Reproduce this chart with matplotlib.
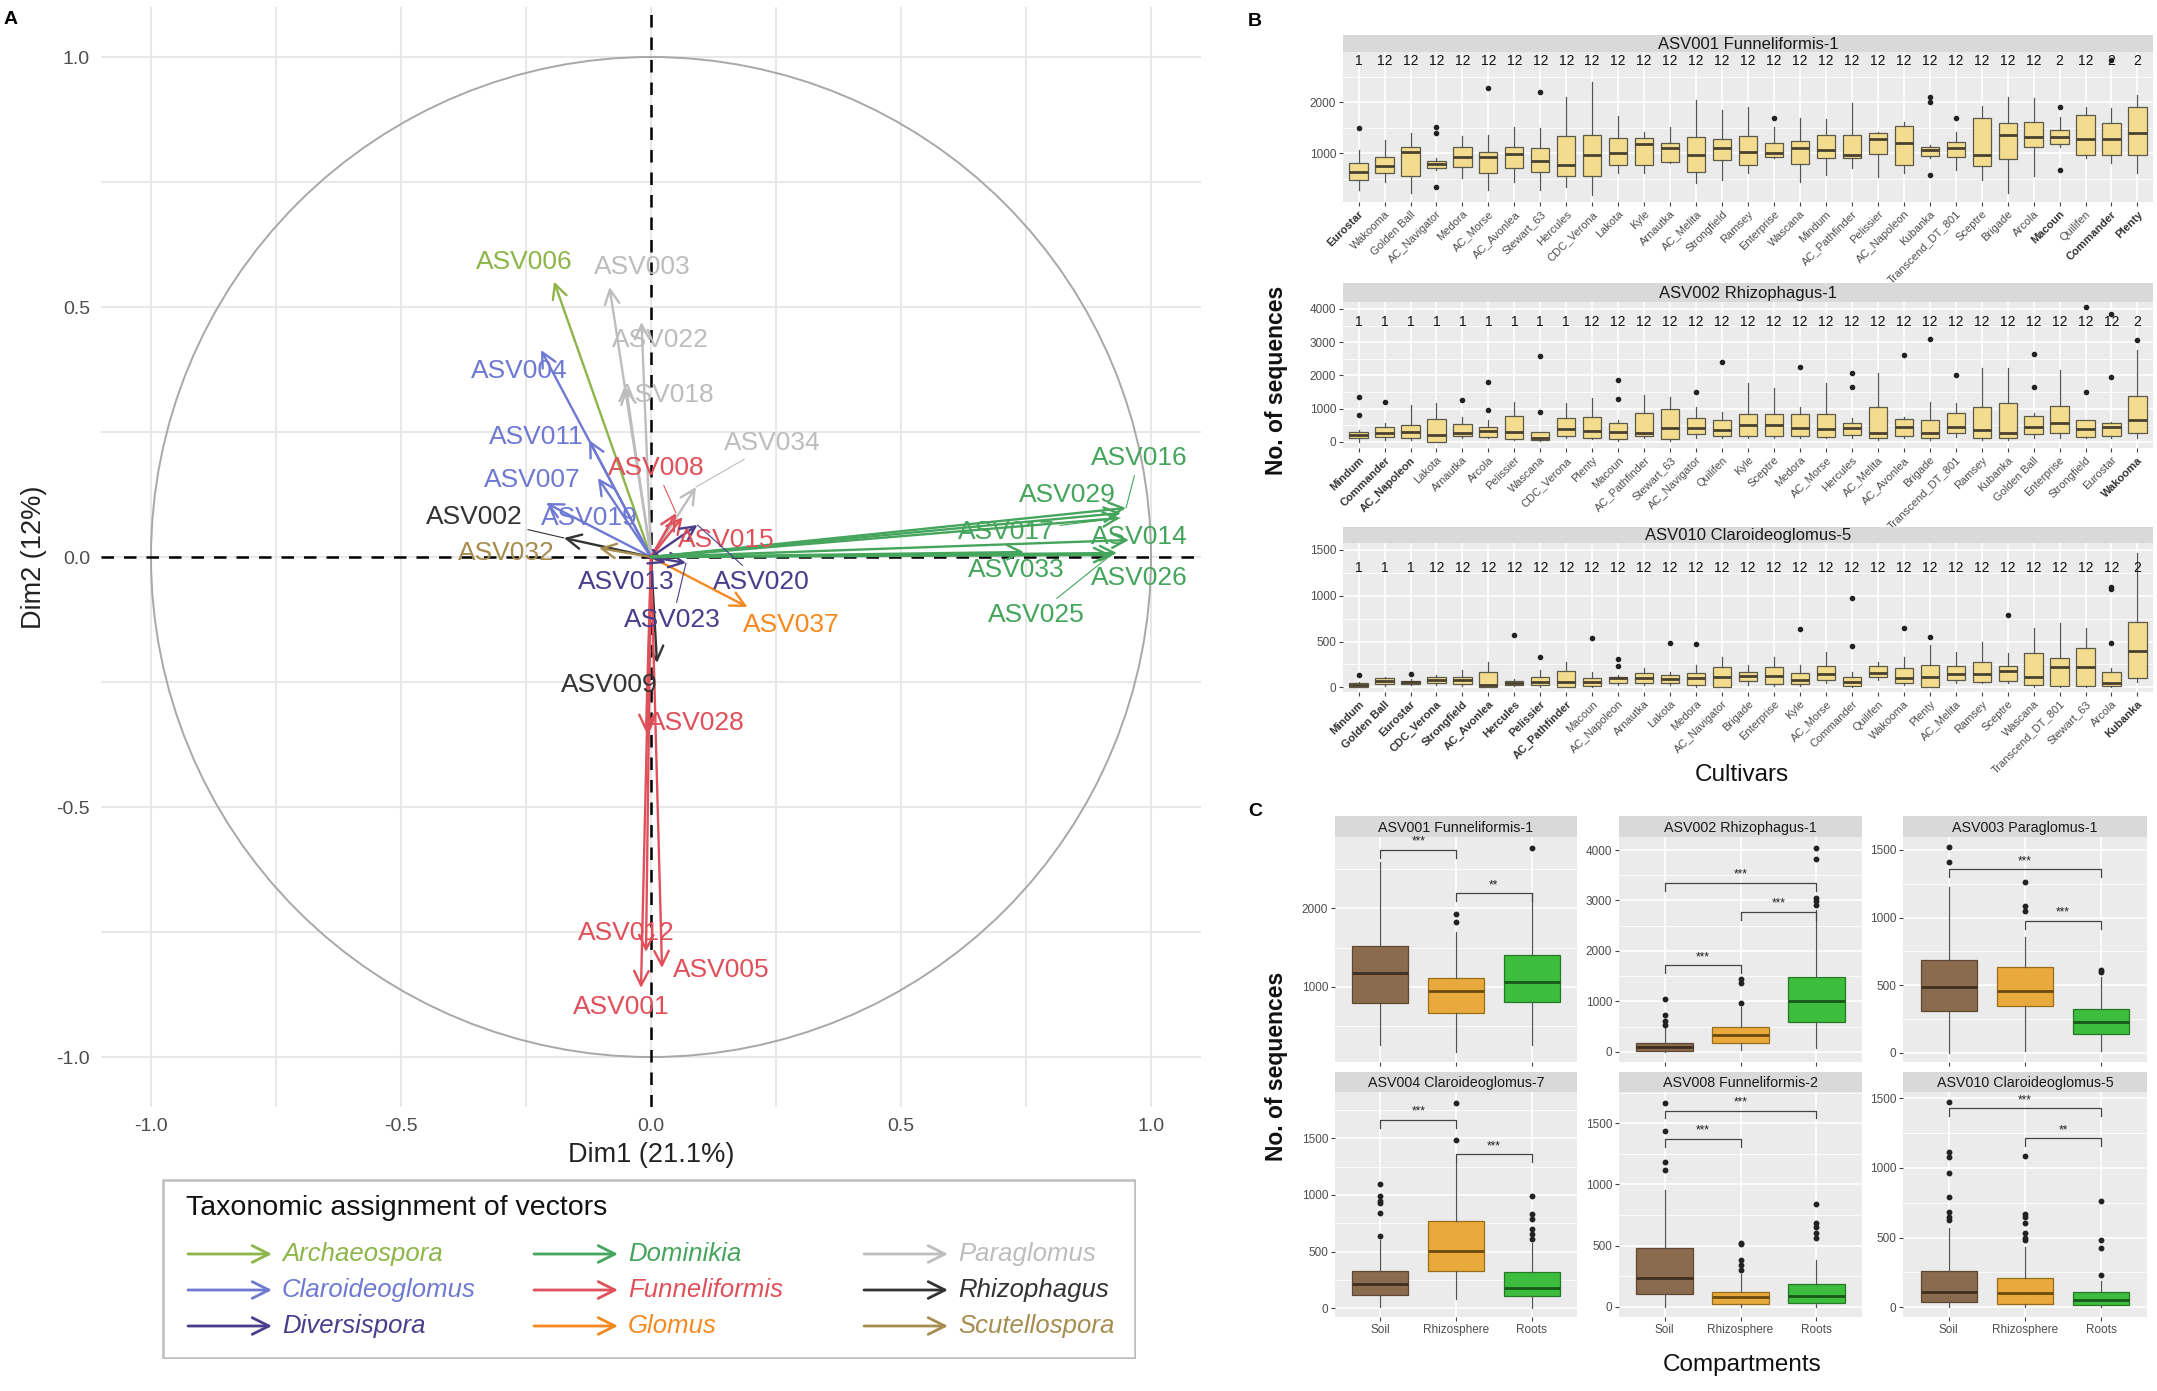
import numpy as np
import matplotlib.pyplot as plt
from matplotlib.patches import Circle, Rectangle

plt.rcParams['font.family'] = ['Liberation Sans', 'DejaVu Sans']

W, H = 2157, 1391

# ---------------- panel A : variable factor map ----------------
genera = ['Archaeospora', 'Claroideoglomus', 'Diversispora', 'Dominikia', 'Funneliformis',
          'Glomus', 'Paraglomus', 'Rhizophagus', 'Scutellospora']
genus_colors = ['#8db548', '#6f79d2', '#4b3c8c', '#45a55c', '#e0505a',
                '#f5891f', '#bdbdbd', '#333333', '#a68d4f']

asv_ids = ['ASV006', 'ASV003', 'ASV022', 'ASV018', 'ASV034', 'ASV004', 'ASV011', 'ASV007',
           'ASV019', 'ASV002', 'ASV009', 'ASV032', 'ASV008', 'ASV015', 'ASV028', 'ASV012',
           'ASV005', 'ASV001', 'ASV037', 'ASV013', 'ASV023', 'ASV020', 'ASV016', 'ASV029',
           'ASV017', 'ASV014', 'ASV033', 'ASV026', 'ASV025']
asv_genus = ['Archaeospora', 'Paraglomus', 'Paraglomus', 'Paraglomus', 'Paraglomus',
             'Claroideoglomus', 'Claroideoglomus', 'Claroideoglomus', 'Claroideoglomus',
             'Rhizophagus', 'Rhizophagus', 'Scutellospora', 'Funneliformis', 'Funneliformis',
             'Funneliformis', 'Funneliformis', 'Funneliformis', 'Funneliformis', 'Glomus',
             'Diversispora', 'Diversispora', 'Diversispora', 'Dominikia', 'Dominikia',
             'Dominikia', 'Dominikia', 'Dominikia', 'Dominikia', 'Dominikia']
dim1 = [-0.194, -0.083, -0.019, -0.05, 0.09, -0.22, -0.124, -0.106, -0.21, -0.174, 0.012,
        -0.104, 0.05, 0.063, -0.01, -0.01, 0.022, -0.02, 0.193, 0.03, 0.07, 0.093,
        0.95, 0.94, 0.938, 0.956, 0.746, 0.932, 0.92]
dim2 = [0.551, 0.54, 0.47, 0.34, 0.14, 0.414, 0.234, 0.158, 0.108, 0.038, -0.212,
        0.018, 0.088, 0.08, -0.35, -0.79, -0.822, -0.862, -0.1, -0.012, -0.012, 0.064,
        0.098, 0.088, 0.078, 0.034, 0.01, 0.008, 0.004]
label_x = [-0.254, -0.018, 0.019, 0.03, 0.243, -0.264, -0.23, -0.238, -0.124, -0.354, -0.084,
           -0.29, 0.01, 0.15, 0.09, -0.05, 0.14, -0.06, 0.28, -0.05, 0.043, 0.22,
           0.976, 0.832, 0.71, 0.976, 0.73, 0.976, 0.77]
label_y = [0.59, 0.58, 0.434, 0.324, 0.228, 0.371, 0.24, 0.154, 0.078, 0.08, -0.256,
           0.008, 0.178, 0.034, -0.333, -0.752, -0.826, -0.9, -0.136, -0.05, -0.126, -0.05,
           0.198, 0.124, 0.05, 0.04, -0.026, -0.042, -0.116]
with_segment = ['ASV002', 'ASV034', 'ASV008', 'ASV020', 'ASV023', 'ASV025', 'ASV016', 'ASV017']

# ---------------- panel B : cultivars ----------------
cult1 = ['Eurostar', 'Wakooma', 'Golden Ball', 'AC_Navigator', 'Medora', 'AC_Morse', 'AC_Avonlea',
         'Stewart_63', 'Hercules', 'CDC_Verona', 'Lakota', 'Kyle', 'Arnautka', 'AC_Melita',
         'Strongfield', 'Ramsey', 'Enterprise', 'Wascana', 'Mindum', 'AC_Pathfinder', 'Pelissier',
         'AC_Napoleon', 'Kubanka', 'Transcend_DT_801', 'Sceptre', 'Brigade', 'Arcola', 'Macoun',
         'Quilifen', 'Commander', 'Plenty']
letters1 = ['1', '12', '12', '12', '12', '12', '12', '12', '12', '12', '12', '12', '12', '12', '12',
            '12', '12', '12', '12', '12', '12', '12', '12', '12', '12', '12', '12', '2', '12', '2', '2']
bold1 = ['Eurostar', 'Macoun', 'Commander', 'Plenty']
q1_1 = [477, 621, 556, 706, 739, 608, 706, 641, 562, 562, 771, 771, 824, 641, 869, 771, 935, 791,
        902, 902, 980, 771, 948, 935, 752, 882, 1131, 1176, 967, 967, 967]
med_1 = [640, 758, 1033, 791, 922, 935, 987, 856, 771, 967, 1013, 1176, 1111, 967, 1111, 1033, 1013,
         1098, 1072, 967, 1274, 1209, 1065, 1098, 967, 1360, 1327, 1327, 1274, 1274, 1392]
q3_1 = [804, 935, 1131, 856, 1131, 1033, 1118, 1111, 1340, 1360, 1294, 1294, 1196, 1327, 1274, 1340,
        1196, 1248, 1360, 1360, 1405, 1536, 1131, 1229, 1686, 1588, 1621, 1457, 1752, 1588, 1915]
lo_1 = [281, 444, 229, 673, 510, 281, 444, 281, 346, 183, 608, 608, 804, 412, 477, 608, 902, 444,
        575, 706, 542, 608, 902, 673, 477, 216, 556, 1131, 902, 804, 608]
hi_1 = [1065, 1261, 1405, 902, 1340, 1360, 1510, 1490, 2111, 2405, 1732, 1425, 1523, 2046, 1850,
        1915, 1523, 1686, 1667, 1993, 1425, 1621, 1163, 1425, 1928, 2111, 2078, 1719, 1915, 1882, 2144]
out_1 = [[1490], [], [], [1523, 1392, 346], [], [2275], [], [2209], [], [], [], [], [], [], [], [],
         [1686], [], [], [], [], [], [2111, 2013, 575], [1686], [], [], [], [1902, 673], [], [2830], []]

cult2 = ['Mindum', 'Commander', 'AC_Napoleon', 'Lakota', 'Arnautka', 'Arcola', 'Pelissier', 'Wascana',
         'CDC_Verona', 'Plenty', 'Macoun', 'AC_Pathfinder', 'Stewart_63', 'AC_Navigator', 'Quilifen',
         'Kyle', 'Sceptre', 'Medora', 'AC_Morse', 'Hercules', 'AC_Melita', 'AC_Avonlea', 'Brigade',
         'Transcend_DT_801', 'Ramsey', 'Kubanka', 'Golden Ball', 'Enterprise', 'Strongfield',
         'Eurostar', 'Wakooma']
letters2 = ['1', '1', '1', '1', '1', '1', '1', '1', '1', '12', '12', '12', '12', '12', '12', '12',
            '12', '12', '12', '12', '12', '12', '12', '12', '12', '12', '12', '12', '12', '12', '2']
bold2 = ['Mindum', 'Commander', 'AC_Napoleon', 'Wakooma']
q1_2 = [101, 151, 101, 0, 181, 151, 70, 50, 181, 121, 70, 181, 70, 221, 181, 181, 181, 181, 151, 201,
        101, 181, 101, 251, 101, 101, 231, 251, 151, 171, 251]
med_2 = [191, 251, 302, 201, 271, 312, 291, 121, 372, 332, 281, 251, 402, 402, 352, 513, 492, 402,
         382, 402, 271, 432, 251, 452, 352, 271, 432, 553, 372, 432, 653]
q3_2 = [302, 452, 503, 673, 533, 452, 784, 281, 724, 734, 553, 874, 975, 724, 653, 834, 834, 834, 834,
        573, 1035, 673, 653, 854, 1035, 1156, 774, 1075, 653, 553, 1377]
lo_2 = [0, 50, 50, 0, 101, 101, 50, 30, 101, 70, 30, 101, 30, 101, 101, 101, 101, 101, 101, 101, 50,
        101, 50, 151, 50, 50, 101, 101, 101, 101, 101]
hi_2 = [352, 553, 1106, 1156, 754, 653, 1206, 302, 1156, 1307, 653, 1407, 1357, 1055, 905, 1759, 1608,
        1055, 1759, 704, 2060, 754, 1206, 1176, 2211, 2211, 874, 2161, 653, 603, 2764]
out_2 = [[1357, 804], [1186], [], [], [1256], [1809, 955], [], [2583, 905], [], [], [1859, 1276], [],
         [], [1508], [2412], [], [], [2261], [], [2060, 1658], [], [2613], [3085], [2010], [], [],
         [2633, 1638], [], [4050, 1508], [3850, 1940], [3065]]

cult3 = ['Mindum', 'Golden Ball', 'Eurostar', 'CDC_Verona', 'Strongfield', 'AC_Avonlea', 'Hercules',
         'Pelissier', 'AC_Pathfinder', 'Macoun', 'AC_Napoleon', 'Arnautka', 'Lakota', 'Medora',
         'AC_Navigator', 'Brigade', 'Enterprise', 'Kyle', 'AC_Morse', 'Commander', 'Quilifen',
         'Wakooma', 'Plenty', 'AC_Melita', 'Ramsey', 'Sceptre', 'Wascana', 'Transcend_DT_801',
         'Stewart_63', 'Arcola', 'Kubanka']
letters3 = ['1', '1', '1', '12', '12', '12', '12', '12', '12', '12', '12', '12', '12', '12', '12', '12',
            '12', '12', '12', '12', '12', '12', '12', '12', '12', '12', '12', '12', '12', '12', '2']
bold3 = ['Mindum', 'Golden Ball', 'Eurostar', 'CDC_Verona', 'Strongfield', 'AC_Avonlea', 'Hercules',
         'Pelissier', 'AC_Pathfinder', 'Kubanka']
q1_3 = [7, 36, 36, 51, 36, 7, 25, 25, 7, 18, 51, 51, 51, 25, 7, 73, 36, 36, 80, 15, 117, 51, 7, 80, 62,
        73, 25, 15, 15, 15, 98]
med_3 = [25, 69, 55, 80, 80, 25, 51, 62, 62, 62, 98, 98, 87, 98, 117, 127, 127, 80, 146, 62, 160, 98,
         117, 142, 142, 182, 117, 226, 226, 51, 401]
q3_3 = [51, 98, 73, 117, 117, 171, 73, 109, 178, 106, 117, 153, 135, 153, 226, 171, 226, 160, 233, 117,
        233, 208, 244, 233, 280, 237, 371, 317, 426, 171, 710]
lo_3 = [0, 15, 25, 25, 15, 0, 15, 7, 0, 7, 25, 25, 25, 7, 0, 25, 15, 15, 44, 0, 80, 25, 0, 44, 44, 44,
        7, 0, 0, 0, 62]
hi_3 = [62, 117, 87, 135, 189, 280, 87, 189, 280, 171, 135, 208, 171, 244, 335, 244, 335, 244, 390, 171,
        280, 335, 462, 390, 499, 379, 644, 699, 644, 208, 1464]
out_3 = [[135], [], [142], [], [], [], [572], [328], [], [535], [306, 233], [], [481], [473], [], [], [],
         [641], [], [972, 451], [], [644], [553], [], [], [790], [], [], [], [1100, 1071, 488], []]

# ---------------- panel C : compartments ----------------
compartments = ['Soil', 'Rhizosphere', 'Roots']
comp_fill = ['#8b6b4d', '#e8aa3c', '#3dbd3d']
comp_edge = ['#5e4733', '#9a6d1c', '#247a24']
comp_median = ['#3f2f20', '#6b4a10', '#175717']

c_titles = ['ASV001 Funneliformis-1', 'ASV002 Rhizophagus-1', 'ASV003 Paraglomus-1',
            'ASV004 Claroideoglomus-7', 'ASV008 Funneliformis-2', 'ASV010 Claroideoglomus-5']
c_q1 = [[796, 660, 810], [20, 167, 583], [309, 346, 136], [117, 332, 109], [101, 19, 33], [40, 22, 17]]
c_med = [[1171, 948, 1065], [100, 331, 1012], [484, 459, 225], [214, 506, 182], [232, 77, 88], [112, 105, 52]]
c_q3 = [[1522, 1115, 1410], [167, 496, 1476], [686, 637, 321], [332, 773, 318], [478, 123, 186], [261, 208, 108]]
c_lo = [[255, 168, 250], [0, 30, 67], [0, 10, 10], [14, 79, 0], [0, 0, 0], [0, 0, 0]]
c_hi = [[2595, 1700, 2200], [497, 893, 2811], [1229, 859, 560], [600, 1280, 580], [955, 270, 382], [567, 435, 190]]
c_out = [[[], [1926, 1820], [2774]],
         [[1050, 730, 600, 520], [1436, 1357, 972], [4030, 3830, 3040, 2980, 2900]],
         [[1523, 1412], [1262, 1084, 1052], [610, 594]],
         [[1100, 990, 950, 930, 840, 640], [1815, 1486], [990, 830, 790, 700, 660, 610]],
         [[1669, 1438, 1187, 1119], [524, 513, 382, 341, 300], [838, 682, 655, 600, 565]],
         [[1472, 1117, 1081, 966, 794, 686, 650, 627], [1086, 670, 650, 603, 531, 500, 483], [763, 483, 423, 232]]]
c_brackets = [[(1, 2, 2745, '***'), (2, 3, 2191, '**')],
              [(1, 2, 1714, '***'), (2, 3, 2778, '***'), (1, 3, 3353, '***')],
              [(1, 3, 1357, '***'), (2, 3, 977, '***')],
              [(1, 2, 1662, '***'), (2, 3, 1359, '***')],
              [(1, 3, 1604, '***'), (1, 2, 1372, '***')],
              [(1, 3, 1428, '***'), (2, 3, 1213, '**')]]


fig = plt.figure(figsize=(W / 100, H / 100), dpi=100)


def box(x0, y0, x1, y1):
    return fig.add_axes([x0 / W, 1 - y1 / H, (x1 - x0) / W, (y1 - y0) / H])


def strip(x0, y0, x1, y1, text, size):
    s = box(x0, y0, x1, y1)
    s.set_facecolor('#d9d9d9')
    s.set_xticks([])
    s.set_yticks([])
    for sp in s.spines.values():
        sp.set_visible(False)
    s.text(0.5, 0.45, text, ha='center', va='center', fontsize=size, color='#1a1a1a',
           transform=s.transAxes)


def gg_panel(ax, ylim, yticks, yminor):
    ax.set_facecolor('#ebebeb')
    ax.set_ylim(*ylim)
    ax.set_yticks(yticks)
    ax.set_yticks(yminor, minor=True)
    ax.grid(True, which='major', color='white', lw=1.2)
    ax.grid(True, which='minor', axis='y', color='white', lw=0.6)
    ax.set_axisbelow(True)
    for sp in ax.spines.values():
        sp.set_visible(False)
    ax.tick_params(which='major', length=3, color='#444444', labelsize=8.5, labelcolor='#4d4d4d', pad=2)
    ax.tick_params(which='minor', length=0)


def make_stats(q1, med, q3, lo, hi, out):
    return [dict(q1=a, med=b, q3=c, whislo=d, whishi=e, fliers=f)
            for a, b, c, d, e, f in zip(q1, med, q3, lo, hi, out)]


# ---- A ----
axA = box(101, 7, 1201, 1107)
axA.set_xlim(-1.1, 1.1)
axA.set_ylim(-1.1, 1.1)
ticks = [-1.0, -0.5, 0.0, 0.5, 1.0]
minor = [-0.75, -0.25, 0.25, 0.75]
axA.set_xticks(ticks)
axA.set_yticks(ticks)
axA.set_xticks(minor, minor=True)
axA.set_yticks(minor, minor=True)
axA.set_xticklabels(['-1.0', '-0.5', '0.0', '0.5', '1.0'])
axA.set_yticklabels(['-1.0', '-0.5', '0.0', '0.5', '1.0'])
axA.grid(True, which='both', color='#e8e8e8', lw=1.5)
axA.set_axisbelow(True)
axA.tick_params(which='both', length=0, labelsize=14, labelcolor='#4d4d4d', pad=8)
for sp in axA.spines.values():
    sp.set_visible(False)
axA.add_patch(Circle((0, 0), 1, fill=False, ec='#a8a8a8', lw=1.4))
axA.axhline(0, color='black', ls=(0, (5, 4)), lw=1.8)
axA.axvline(0, color='black', ls=(0, (5, 4)), lw=1.8)
axA.set_xlabel('Dim1 (21.1%)', fontsize=19.5, color='#222222', labelpad=5)
axA.set_ylabel('Dim2 (12%)', fontsize=19.5, color='#222222', labelpad=7)

gcol = dict(zip(genera, genus_colors))
for name, g, x, y, lx, ly in zip(asv_ids, asv_genus, dim1, dim2, label_x, label_y):
    c = gcol[g]
    axA.annotate('', xy=(x, y), xytext=(0, 0),
                 arrowprops=dict(arrowstyle='->', color=c, lw=1.7, mutation_scale=26,
                                 shrinkA=0, shrinkB=0))
for name, g, x, y, lx, ly in zip(asv_ids, asv_genus, dim1, dim2, label_x, label_y):
    c = gcol[g]
    if name in with_segment:
        axA.annotate(name, xy=(x, y), xytext=(lx, ly), ha='center', va='center', fontsize=19,
                     color=c, arrowprops=dict(arrowstyle='-', color=c, lw=0.8, shrinkA=2, shrinkB=0))
    else:
        axA.text(lx, ly, name, ha='center', va='center', fontsize=19, color=c)

# legend box
axL = box(162, 1179, 1136, 1359)
axL.set_xlim(0, 974)
axL.set_ylim(180, 0)
axL.axis('off')
axL.add_patch(Rectangle((1, 1), 972, 178, fill=False, ec='#bdbdbd', lw=1.8))
axL.text(24, 29, 'Taxonomic assignment of vectors', fontsize=20.5, va='center', ha='left', color='#111111')
col_x = [26, 372, 702]
row_y = [75, 111, 147]
for k, (g, c) in enumerate(zip(genera, genus_colors)):
    cx = col_x[k // 3]
    ry = row_y[k % 3]
    axL.annotate('', xy=(cx + 84, ry), xytext=(cx, ry),
                 arrowprops=dict(arrowstyle='->', color=c, lw=2.0, mutation_scale=30, shrinkA=0, shrinkB=0))
    axL.text(cx + 94, ry, g, fontsize=18.5, style='italic', color=c, va='center', ha='left')

# ---- B ----
b_sets = [
    (cult1, letters1, bold1, make_stats(q1_1, med_1, q3_1, lo_1, hi_1, out_1), 'ASV001 Funneliformis-1',
     (35, 52, 202), (45, 2986), [1000, 2000], [500, 1500, 2500], 2815),
    (cult2, letters2, bold2, make_stats(q1_2, med_2, q3_2, lo_2, hi_2, out_2), 'ASV002 Rhizophagus-1',
     (283, 302, 448), (-190, 4210), [0, 1000, 2000, 3000, 4000], [500, 1500, 2500, 3500], 3620),
    (cult3, letters3, bold3, make_stats(q1_3, med_3, q3_3, lo_3, hi_3, out_3), 'ASV010 Claroideoglomus-5',
     (527, 543, 692), (-51, 1576), [0, 500, 1000, 1500], [250, 750, 1250], 1300),
]
for cult, lets, bolds, stats, title, (ys, yt, yb), ylim, yt_major, yt_minor, ylet in b_sets:
    strip(1343, ys, 2153, yt, title, 12)
    ax = box(1343, yt, 2153, yb)
    gg_panel(ax, ylim, yt_major, yt_minor)
    pos = np.arange(1, len(cult) + 1)
    ax.bxp(stats, positions=pos, widths=0.7, patch_artist=True, showcaps=False,
           boxprops=dict(facecolor='#f3dc8e', edgecolor='#5a5a4a', lw=0.9),
           medianprops=dict(color='#4a4030', lw=2.0),
           whiskerprops=dict(color='#555555', lw=0.9),
           flierprops=dict(marker='o', markersize=3, markerfacecolor='#222222', markeredgecolor='#222222'))
    ax.set_xlim(0.4, len(cult) + 0.6)
    ax.set_xticks(pos)
    ax.set_xticklabels(cult, rotation=45, ha='right', va='top', rotation_mode='anchor', fontsize=8)
    for lab in ax.get_xticklabels():
        if lab.get_text() in bolds:
            lab.set_fontweight('bold')
            lab.set_color('#333333')
    for p, t in zip(pos, lets):
        ax.text(p, ylet, t, ha='center', va='center', fontsize=10, color='#111111')

fig.text(1742 / W, 1 - 775 / H, 'Cultivars', fontsize=17.5, ha='center', va='center', color='#111111')
fig.text(1277 / W, 1 - 380 / H, 'No. of sequences', fontsize=16.5, fontweight='bold', rotation=90,
         ha='center', va='center', color='#111111')

# ---- C ----
col_px = [(1335, 1577), (1619, 1862), (1903, 2147)]
row_px = [(816, 837, 1062), (1072, 1092, 1317)]
c_ylims = [(38, 2911), (-204, 4258), (-69, 1596), (-77, 1909), (-84, 1756), (-70, 1545)]
c_yticks = [[1000, 2000], [0, 1000, 2000, 3000, 4000], [0, 500, 1000, 1500],
            [0, 500, 1000, 1500], [0, 500, 1000, 1500], [0, 500, 1000, 1500]]
c_yminor = [[500, 1500, 2500], [500, 1500, 2500, 3500], [250, 750, 1250],
            [250, 750, 1250, 1750], [250, 750, 1250, 1750], [250, 750, 1250]]
for i in range(6):
    x0, x1 = col_px[i % 3]
    ys, yt, yb = row_px[i // 3]
    strip(x0, ys, x1, yt, c_titles[i], 10.3)
    ax = box(x0, yt, x1, yb)
    gg_panel(ax, c_ylims[i], c_yticks[i], c_yminor[i])
    stats = make_stats(c_q1[i], c_med[i], c_q3[i], c_lo[i], c_hi[i], c_out[i])
    bp = ax.bxp(stats, positions=[1, 2, 3], widths=0.74, patch_artist=True, showcaps=False,
                whiskerprops=dict(color='#555555', lw=0.9),
                flierprops=dict(marker='o', markersize=3.2, markerfacecolor='#222222',
                                markeredgecolor='#222222'))
    for k in range(3):
        bp['boxes'][k].set_facecolor(comp_fill[k])
        bp['boxes'][k].set_edgecolor(comp_edge[k])
        bp['boxes'][k].set_linewidth(0.9)
        bp['medians'][k].set_color(comp_median[k])
        bp['medians'][k].set_linewidth(2.0)
    ax.set_xlim(0.4, 3.6)
    ax.set_xticks([1, 2, 3])
    if i >= 3:
        ax.set_xticklabels(compartments, fontsize=8.5)
    else:
        ax.set_xticklabels([])
    span = c_ylims[i][1] - c_ylims[i][0]
    for a, b, yb_, lab in c_brackets[i]:
        drop = 0.035 * span
        ax.plot([a, a, b, b], [yb_ - drop, yb_, yb_, yb_ - drop], color='#444444', lw=0.9)
        ax.text((a + b) / 2, yb_ + 0.01 * span, lab, ha='center', va='bottom', fontsize=8.5, color='#222222')

fig.text(1742 / W, 1 - 1365 / H, 'Compartments', fontsize=17.5, ha='center', va='center', color='#111111')
fig.text(1277 / W, 1 - 1066 / H, 'No. of sequences', fontsize=16.5, fontweight='bold', rotation=90,
         ha='center', va='center', color='#111111')

# panel letters
fig.text(11 / W, 1 - 20 / H, 'A', fontsize=14, fontweight='bold', ha='center', va='center')
fig.text(1255 / W, 1 - 22 / H, 'B', fontsize=14, fontweight='bold', ha='center', va='center')
fig.text(1255 / W, 1 - 812 / H, 'C', fontsize=14, fontweight='bold', ha='center', va='center')

fig.savefig('out.png', dpi=100, facecolor='white')
